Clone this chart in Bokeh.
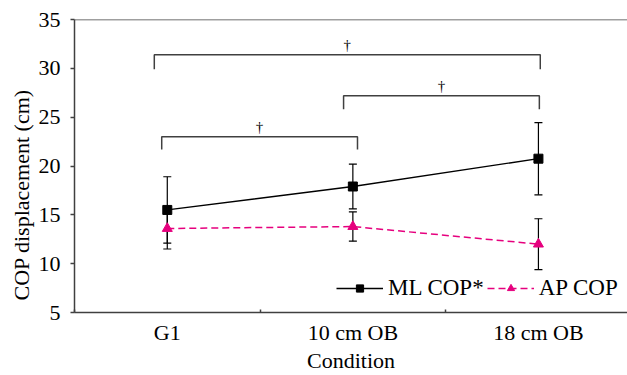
from bokeh.plotting import figure
from bokeh.models import (Range1d, FixedTicker, Whisker, TeeHead, ColumnDataSource,
                          Legend, LegendItem, Span, Title)
from bokeh.core.properties import value
from bokeh.embed import file_html
from bokeh.resources import INLINE

# ---- data ----
categories = ["G1", "10 cm OB", "18 cm OB"]
ml_mean = [15.5, 17.9, 20.75]
ml_sd = [3.4, 2.3, 3.7]
ap_mean = [13.6, 13.8, 12.0]
ap_sd = [2.1, 1.5, 2.6]
y_ticks = [5, 10, 15, 20, 25, 30, 35]
y_title = "COP displacement (cm)"
x_title = "Condition"
# significance brackets: (from category, offset, to category, offset, bar level, leg end)
brackets = [
    ("G1", -0.07, "18 cm OB", 0.01, 31.4, 29.9),
    ("10 cm OB", -0.05, "18 cm OB", 0.005, 27.2, 25.8),
    ("G1", -0.03, "10 cm OB", 0.025, 23.0, 21.7),
]
bracket_mark = "†"

FONT = "Liberation Serif"
FS = "22px"
AXIS_COL = "#404040"
PINK = "#e6007e"

xs = [i + 0.5 for i in range(len(categories))]
pos = dict(zip(categories, xs))

p = figure(width=627, height=375, output_backend="svg", toolbar_location=None,
           x_range=Range1d(0, 2.98), y_range=Range1d(5, 35),
           min_border_left=74, min_border_right=0, min_border_top=19, min_border_bottom=60)
p.outline_line_color = None
p.xgrid.visible = False
p.ygrid.visible = False
p.background_fill_color = "white"

# top frame line
p.add_layout(Span(location=35, dimension="width", line_color=AXIS_COL, line_width=1.5))

# axes
p.yaxis.ticker = FixedTicker(ticks=y_ticks)
p.xaxis.ticker = FixedTicker(ticks=xs, minor_ticks=[0, 1, 2, 3])
p.xaxis.major_label_overrides = {x: c for x, c in zip(xs, categories)}
p.xaxis.axis_label = x_title
for ax in (p.xaxis[0], p.yaxis[0]):
    ax.axis_line_color = AXIS_COL
    ax.axis_line_width = 1.5
    ax.major_label_text_font = FONT
    ax.major_label_text_font_size = FS
    ax.major_label_text_color = "black"
    ax.major_label_text_line_height = 0.88
    ax.axis_label_text_font = FONT
    ax.axis_label_text_font_size = FS
    ax.axis_label_text_font_style = "normal"
    ax.axis_label_text_color = "black"
    ax.axis_label_text_line_height = 0.88
p.yaxis.major_tick_line_color = AXIS_COL
p.yaxis.major_tick_line_width = 1.5
p.yaxis.major_tick_out = 4
p.yaxis.major_tick_in = 0
p.yaxis.minor_tick_line_color = None
p.yaxis.major_label_standoff = 10
p.xaxis.major_tick_line_color = None
p.xaxis.minor_tick_line_color = AXIS_COL
p.xaxis.minor_tick_line_width = 1.5
p.xaxis.minor_tick_in = 3
p.xaxis.minor_tick_out = 0
p.xaxis.major_label_standoff = 1
p.xaxis.axis_label_standoff = 0

# y title as a side title so it can sit off-centre like the reference
p.add_layout(Title(text=y_title, align="left", offset=12, text_font=FONT,
                   text_font_size=FS, text_font_style="normal", text_color="black",
                   standoff=4), "left")

# brackets
bx, by = [], []
tx, ty = [], []
for a, oa, b, ob, lvl, leg in brackets:
    x0 = pos[a] + oa
    x1 = pos[b] + ob
    bx.append([x0, x0, x1, x1])
    by.append([leg, lvl, lvl, leg])
    tx.append((x0 + x1) / 2)
    ty.append(lvl)
p.multi_line(bx, by, line_color=AXIS_COL, line_width=1.5)
p.text(tx, ty, text=[bracket_mark] * len(tx), text_font=value(FONT), text_font_size="15px",
       text_align="center", text_baseline="bottom", y_offset=-2, text_color="black")

# error bars
src = ColumnDataSource(dict(
    x=xs + xs,
    upper=[m + s for m, s in zip(ml_mean, ml_sd)] + [m + s for m, s in zip(ap_mean, ap_sd)],
    lower=[m - s for m, s in zip(ml_mean, ml_sd)] + [m - s for m, s in zip(ap_mean, ap_sd)],
))
w = Whisker(source=src, base="x", upper="upper", lower="lower", dimension="height",
            line_color="black", line_width=1.2,
            upper_head=TeeHead(size=8, line_color="black", line_width=1.2),
            lower_head=TeeHead(size=8, line_color="black", line_width=1.2))
p.add_layout(w)

# series
ml_line = p.line(xs, ml_mean, line_color="black", line_width=1.3)
ml_pts = p.scatter(xs, ml_mean, marker="square", size=9, fill_color="black", line_color="black")
ap_line = p.line(xs, ap_mean, line_color=PINK, line_width=1.5, line_dash="7 4")
ap_pts = p.scatter(xs, ap_mean, marker="triangle", size=10, fill_color=PINK, line_color=PINK)

legend = Legend(items=[LegendItem(label="ML COP*", renderers=[ml_line, ml_pts]),
                       LegendItem(label="AP COP", renderers=[ap_line, ap_pts])],
                orientation="horizontal", location=(262, 11),
                glyph_width=47, glyph_height=18, label_standoff=5, spacing=3,
                padding=0, margin=0,
                label_text_font=FONT, label_text_font_size="23px", label_text_color="black",
                background_fill_alpha=0, border_line_alpha=0)
p.add_layout(legend)

open("out.html", "w").write(file_html(p, INLINE))
